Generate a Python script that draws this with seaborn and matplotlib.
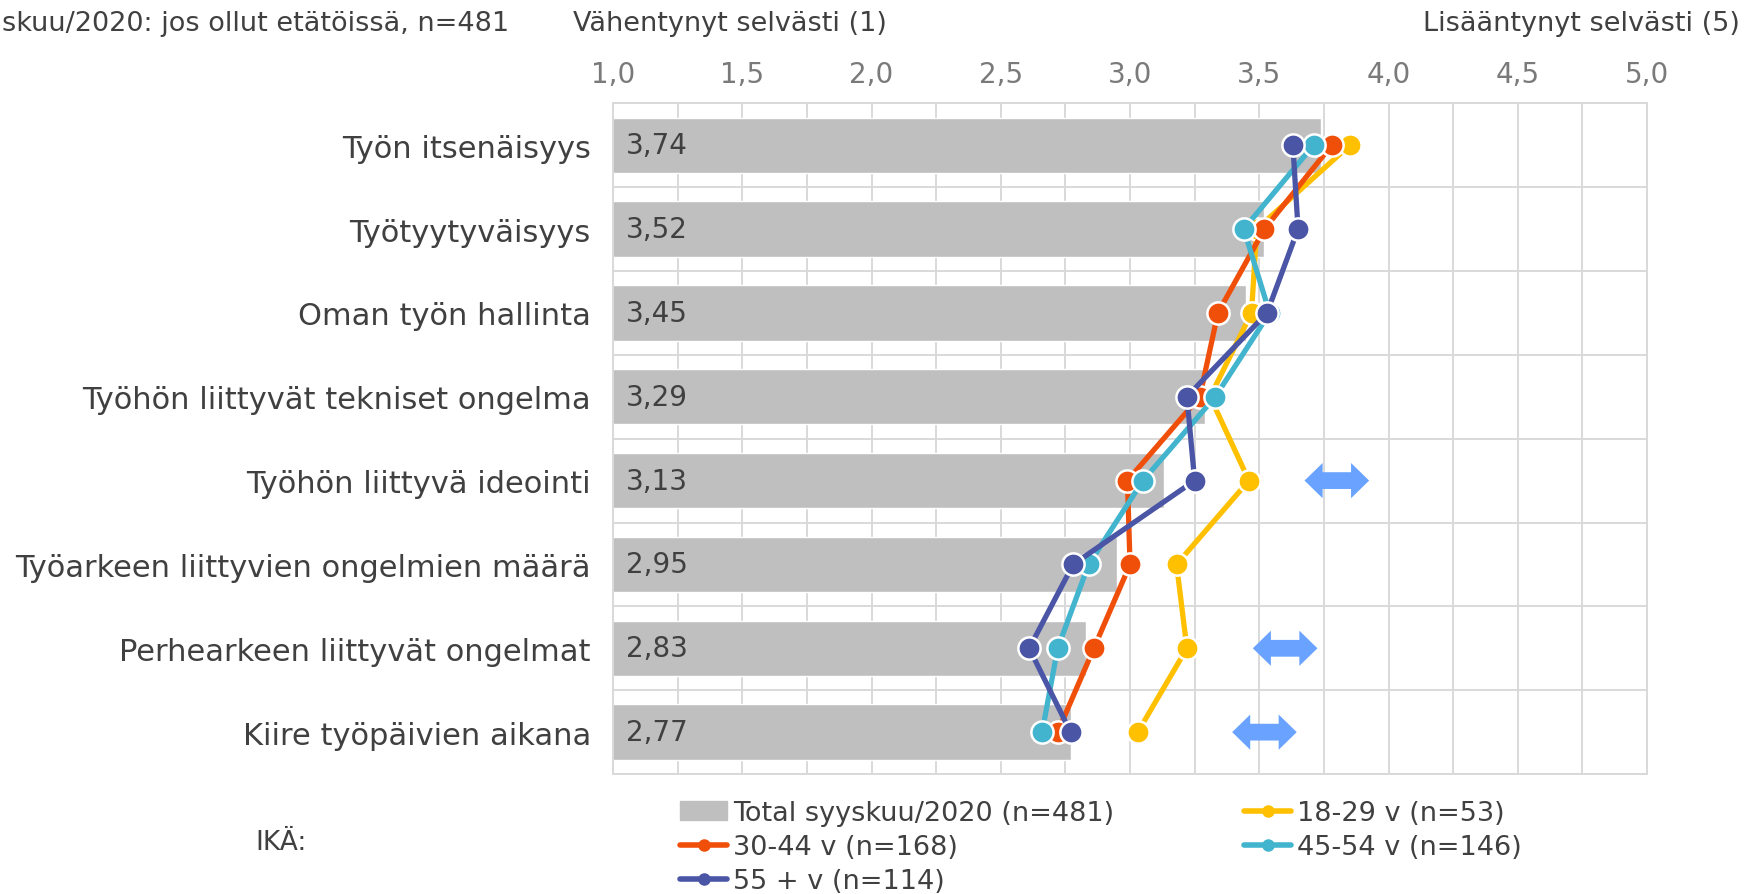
import numpy as np
import pandas as pd
import matplotlib
matplotlib.use('Agg')
import matplotlib.pyplot as plt
from matplotlib.lines import Line2D
from matplotlib.patches import Patch, Polygon
from matplotlib.ticker import MultipleLocator, FixedLocator
import seaborn as sns

# Datos
kategoriat = [
    'Työn itsenäisyys',
    'Työtyytyväisyys',
    'Oman työn hallinta',
    'Työhön liittyvät tekniset ongelma',
    'Työhön liittyvä ideointi',
    'Työarkeen liittyvien ongelmien määrä',
    'Perhearkeen liittyvät ongelmat',
    'Kiire työpäivien aikana',
]
total = [3.74, 3.52, 3.45, 3.29, 3.13, 2.95, 2.83, 2.77]
ika_18_29 = [3.85, 3.49, 3.47, 3.31, 3.46, 3.18, 3.22, 3.03]
ika_30_44 = [3.78, 3.52, 3.34, 3.27, 2.99, 3.00, 2.86, 2.72]
ika_45_54 = [3.71, 3.44, 3.54, 3.33, 3.05, 2.84, 2.72, 2.66]
ika_55 = [3.63, 3.65, 3.53, 3.22, 3.25, 2.78, 2.61, 2.77]

ryhmat = ['18-29 v (n=53)', '30-44 v (n=168)', '45-54 v (n=146)', '55 + v (n=114)']
ryhma_arvot = [ika_18_29, ika_30_44, ika_45_54, ika_55]
varit = ['#ffc000', '#f04f0a', '#42b4cd', '#4a55a6']
total_label = 'Total syyskuu/2020 (n=481)'

# Nuolet (rivi, keskikohta)
nuoli_rivit = [4, 6, 7]
nuoli_keskit = [3.80, 3.60, 3.52]

sns.set_style('white')
plt.rcParams['font.family'] = ['DejaVu Sans']
tekstivari = '#404040'

fig = plt.figure(figsize=(17.44, 8.95), dpi=100)
ax = fig.add_axes([0.3515, 0.134, 0.5929, 0.7495])

# Pylväät
sns.barplot(x=total, y=kategoriat, color='#bfbfbf', width=0.66,
            orient='h', saturation=1, ax=ax, zorder=2)

# Viivat
df_lines = pd.DataFrame({
    'arvo': np.concatenate(ryhma_arvot),
    'pos': np.tile(np.arange(len(kategoriat)), len(ryhmat)),
    'ryhma': np.repeat(ryhmat, len(kategoriat)),
})
sns.lineplot(data=df_lines, x='arvo', y='pos', hue='ryhma', hue_order=ryhmat,
             palette=varit, orient='y', sort=False, estimator=None,
             marker='o', markersize=16, markeredgecolor='white',
             markeredgewidth=1.8, linewidth=3.8, legend=False, ax=ax, zorder=3)

# Arvot pylväiden sisällä
for i, v in enumerate(total):
    ax.text(1.05, i, f'{v:.2f}'.replace('.', ','), va='center', ha='left',
            fontsize=20, color=tekstivari, zorder=4)

# Kaksipäiset nuolet
hl, hh, sh, half = 0.07, 0.21, 0.10, 0.125
for r, c in zip(nuoli_rivit, nuoli_keskit):
    x0, x1 = c - half, c + half
    pts = [(x0, r), (x0 + hl, r - hh), (x0 + hl, r - sh), (x1 - hl, r - sh),
           (x1 - hl, r - hh), (x1, r), (x1 - hl, r + hh), (x1 - hl, r + sh),
           (x0 + hl, r + sh), (x0 + hl, r + hh)]
    ax.add_patch(Polygon(pts, closed=True, color='#6aa3ff', zorder=4, lw=0))

# Akselit
ax.set_xlim(1, 5)
ax.set_ylim(len(kategoriat) - 0.5, -0.5)
ax.xaxis.tick_top()
ax.xaxis.set_minor_locator(MultipleLocator(0.25))
ax.set_xticks(np.arange(1, 5.01, 0.5))
ax.set_xticklabels([f'{t:.1f}'.replace('.', ',') for t in np.arange(1, 5.01, 0.5)])
ax.yaxis.set_minor_locator(FixedLocator(np.arange(-0.5, len(kategoriat), 1.0)))
ax.set_xlabel('')
ax.set_ylabel('')
ax.tick_params(axis='x', which='both', length=0, pad=11, labelsize=20, colors='#7a7a7a')
ax.tick_params(axis='y', which='both', length=0, pad=16, labelsize=22, labelcolor=tekstivari)
ax.grid(False)
ax.xaxis.grid(True, which='both', color='#d9d9d9', lw=1.4)
ax.yaxis.grid(True, which='minor', color='#d9d9d9', lw=1.4)
ax.set_axisbelow(True)
for s in ax.spines.values():
    s.set_color('#d9d9d9')
    s.set_linewidth(1.4)

# Otsikkotekstit (vasen teksti näkyy kuvassa katkaistuna)
fig.text(0.001, 1 - 24 / 895, 'skuu/2020: jos ollut etätöissä, n=481',
         ha='left', va='center', fontsize=19.5, color=tekstivari)
fig.text(573 / 1744, 1 - 24 / 895, 'Vähentynyt selvästi (1)',
         ha='left', va='center', fontsize=19.5, color=tekstivari)
fig.text(1740 / 1744, 1 - 24 / 895, 'Lisääntynyt selvästi (5)',
         ha='right', va='center', fontsize=19.5, color=tekstivari)
fig.text(255 / 1744, 1 - 843 / 895, 'IKÄ:', ha='left', va='center',
         fontsize=19, color=tekstivari)

# Selite
def viiva(c):
    return Line2D([], [], color=c, lw=4, marker='o', markersize=8,
                  markeredgecolor=c)

kahvat = [Patch(color='#bfbfbf'), viiva(varit[1]), viiva(varit[3]),
          viiva(varit[0]), viiva(varit[2])]
tekstit = [total_label, ryhmat[1], ryhmat[3], ryhmat[0], ryhmat[2]]
fig.legend(kahvat, tekstit, ncol=2, loc='upper left',
           bbox_to_anchor=(680 / 1744, 1 - 801 / 895), frameon=False,
           fontsize=19.5, labelcolor=tekstivari, handlelength=1.75,
           handletextpad=0.2, columnspacing=4.8, labelspacing=0.3,
           borderpad=0, borderaxespad=0)

fig.savefig('out.png', dpi=100)
